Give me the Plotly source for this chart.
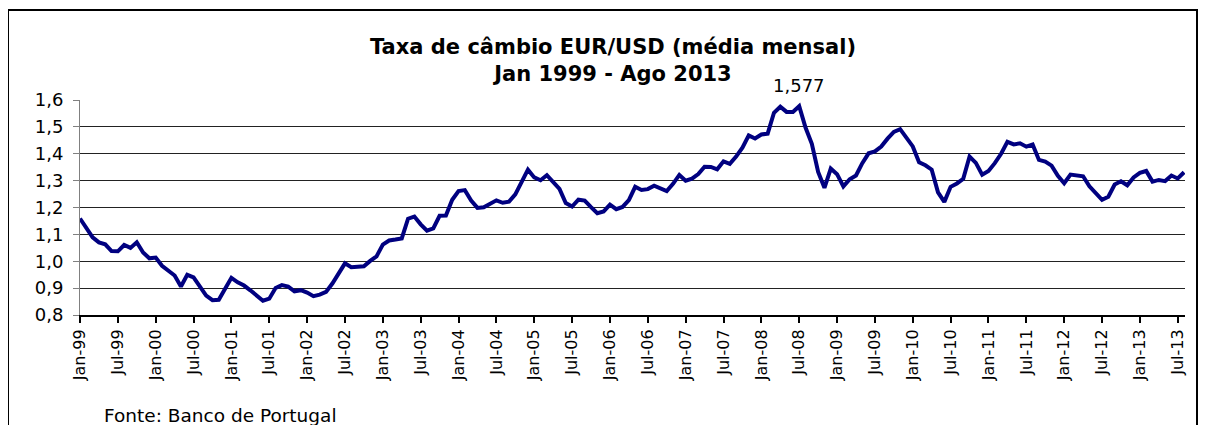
import plotly.graph_objects as go

# Monthly average EUR/USD, Jan 1999 - Aug 2013
rates = [
    1.1591, 1.1203, 1.0886, 1.0701, 1.0630, 1.0377, 1.0370, 1.0605, 1.0497, 1.0706, 1.0328, 1.0110,
    1.0137, 0.9834, 0.9643, 0.9470, 0.9060, 0.9492, 0.9397, 0.9041, 0.8721, 0.8552, 0.8564, 0.8973,
    0.9383, 0.9217, 0.9095, 0.8920, 0.8742, 0.8532, 0.8607, 0.9005, 0.9111, 0.9059, 0.8883, 0.8924,
    0.8833, 0.8700, 0.8758, 0.8858, 0.9170, 0.9554, 0.9922, 0.9778, 0.9808, 0.9811, 1.0014, 1.0183,
    1.0622, 1.0773, 1.0807, 1.0848, 1.1582, 1.1663, 1.1372, 1.1139, 1.1222, 1.1692, 1.1702, 1.2286,
    1.2613, 1.2646, 1.2262, 1.1985, 1.2007, 1.2138, 1.2266, 1.2176, 1.2218, 1.2490, 1.2991, 1.3408,
    1.3119, 1.3014, 1.3201, 1.2938, 1.2694, 1.2165, 1.2037, 1.2292, 1.2256, 1.2015, 1.1786, 1.1856,
    1.2103, 1.1938, 1.2020, 1.2271, 1.2770, 1.2650, 1.2684, 1.2811, 1.2727, 1.2611, 1.2881, 1.3213,
    1.2999, 1.3074, 1.3242, 1.3516, 1.3511, 1.3419, 1.3716, 1.3622, 1.3896, 1.4227, 1.4684, 1.4570,
    1.4718, 1.4748, 1.5527, 1.5751, 1.5557, 1.5553, 1.5770, 1.4975, 1.4370, 1.3322, 1.2732, 1.3449,
    1.3239, 1.2785, 1.3050, 1.3190, 1.3650, 1.4016, 1.4088, 1.4268, 1.4562, 1.4816, 1.4914, 1.4614,
    1.4272, 1.3686, 1.3569, 1.3406, 1.2565, 1.2209, 1.2770, 1.2894, 1.3067, 1.3898, 1.3661, 1.3220,
    1.3360, 1.3649, 1.3999, 1.4442, 1.4349, 1.4388, 1.4264, 1.4343, 1.3770, 1.3706, 1.3556, 1.3179,
    1.2905, 1.3224, 1.3201, 1.3162, 1.2789, 1.2526, 1.2288, 1.2400, 1.2856, 1.2974, 1.2828, 1.3119,
    1.3288, 1.3359, 1.2964, 1.3026, 1.2982, 1.3189, 1.3080, 1.3310,
]
month_index = list(range(len(rates)))

years = [f"{y:02d}" for y in list(range(99, 100)) + list(range(0, 14))]
tick_labels = []
for yy in years:
    tick_labels += [f"Jan-{yy}", f"Jul-{yy}"]
tick_positions = [6 * i for i in range(len(tick_labels))]

y_ticks = [0.8, 0.9, 1.0, 1.1, 1.2, 1.3, 1.4, 1.5, 1.6]
y_tick_labels = ["0,8", "0,9", "1,0", "1,1", "1,2", "1,3", "1,4", "1,5", "1,6"]

peak_idx = max(month_index, key=lambda i: rates[i])
peak_label = "1,577"

FONT = "DejaVu Sans, Verdana, sans-serif"

fig = go.Figure()
fig.add_trace(go.Scatter(
    x=month_index, y=rates, mode="lines",
    line=dict(color="#000080", width=4),
    hoverinfo="skip", showlegend=False,
))

# page is offset by the 8px body margin -> figure coords = page coords - 8
OFF = 8
W, H = 1190, 417
L, T = 80 - OFF, 100 - OFF
R = W - (1185 - OFF)
B = H - (315 - OFF)
pw, ph = W - L - R, H - T - B


def px(xp):
    return (xp - OFF - L) / pw


def py(yp):
    return (H - B - (yp - OFF)) / ph


fig.update_layout(
    width=W, height=H,
    margin=dict(l=L, r=R, t=T, b=B),
    paper_bgcolor="white", plot_bgcolor="white",
    font=dict(family=FONT, color="black"),
    title=dict(
        text="<b>Taxa de câmbio EUR/USD (média mensal)<br>Jan 1999 - Ago 2013</b>",
        x=(613 - OFF) / W, xanchor="center", y=1 - (54 - OFF) / H, yanchor="middle",
        font=dict(size=21, family=FONT, color="black"),
    ),
    xaxis=dict(
        range=[0, len(rates) - 1 + 0.15],
        tickvals=tick_positions, ticktext=tick_labels,
        tickangle=-90, tickfont=dict(size=16, family=FONT),
        ticks="outside", ticklen=6, tickwidth=2, tickcolor="black",
        showline=True, linecolor="black", linewidth=2,
        showgrid=False, zeroline=False, fixedrange=True,
    ),
    yaxis=dict(
        range=[0.8, 1.6],
        tickvals=y_ticks, ticktext=y_tick_labels,
        tickfont=dict(size=18, family=FONT),
        ticks="outside", ticklen=6, tickwidth=1, tickcolor="#808080",
        showline=True, linecolor="#808080", linewidth=1,
        showgrid=True, gridcolor="#222222", gridwidth=1,
        zeroline=False, fixedrange=True, ticklabelstandoff=6,
    ),
    annotations=[
        dict(x=month_index[peak_idx], y=rates[peak_idx], text=peak_label,
             xref="x", yref="y", showarrow=False, yshift=21,
             font=dict(size=18, family=FONT)),
        dict(x=px(102), y=py(415), xref="paper", yref="paper",
             xanchor="left", yanchor="middle", showarrow=False,
             text="Fonte: Banco de Portugal", font=dict(size=18.5, family=FONT)),
    ],
    shapes=[
        dict(type="rect", xref="paper", yref="paper",
             x0=px(8), x1=px(1197),
             y0=py(440), y1=py(10),
             line=dict(color="black", width=2), fillcolor="rgba(0,0,0,0)", layer="below"),
    ],
)

fig.write_html("out.html")
